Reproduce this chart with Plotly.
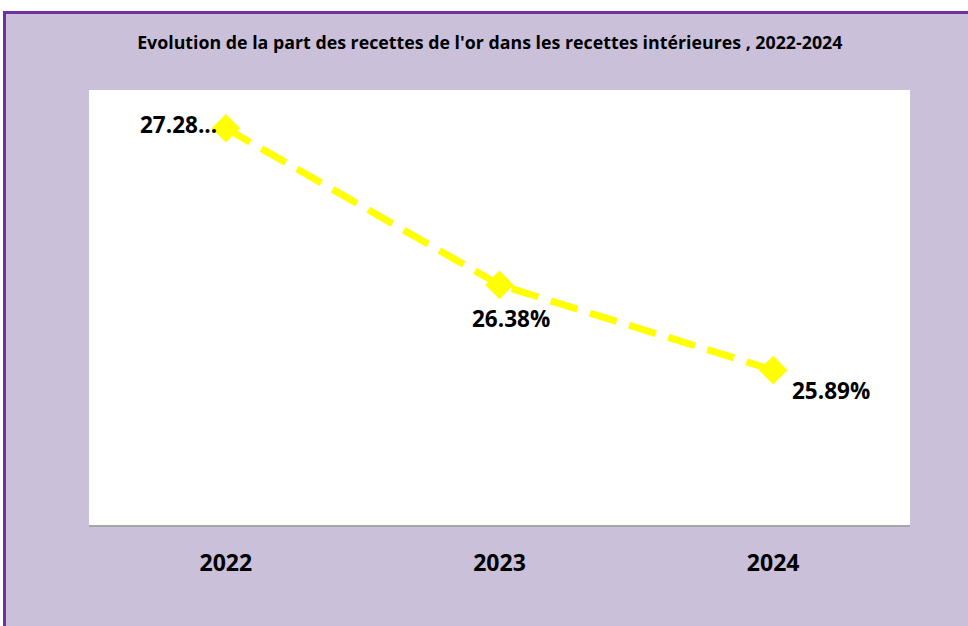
import plotly.graph_objects as go

years = ["2022", "2023", "2024"]
values = [27.28, 26.38, 25.89]
labels = ["27.28...", "26.38%", "25.89%"]
title = "Evolution de la part des recettes de l'or dans les recettes intérieures , 2022-2024"

W, H = 968, 626
L, R, T, B = 89, 58, 90, 101
pw, ph = W - L - R, H - T - B

def px(x):
    return (x - L) / pw

def py(y):
    return (H - B - y) / ph

fig = go.Figure()
fig.add_trace(go.Scatter(
    x=years, y=values, mode="lines+markers",
    line=dict(color="#FFFF00", width=7, dash="28px,13px"),
    marker=dict(symbol="diamond", size=22, color="#FFFF00"),
    cliponaxis=False,
    hoverinfo="skip",
))

label_style = [
    dict(xanchor="right", xshift=-7, yshift=4),
    dict(xanchor="center", xshift=11, yshift=-34),
    dict(xanchor="left", xshift=17, yshift=-20),
]
for i, (v, lab, st) in enumerate(zip(values, labels, label_style)):
    fig.add_annotation(x=i, y=v, text="<b>" + lab + "</b>", showarrow=False,
                       yanchor="middle",
                       font=dict(family="Open Sans", size=22.5, color="#000000"), **st)

fig.update_layout(
    width=W, height=H,
    margin=dict(l=L, r=R, t=T, b=B),
    paper_bgcolor="#CBC0DA",
    plot_bgcolor="#FFFFFF",
    showlegend=False,
    title=dict(text="<b>" + title + "</b>", x=0.506, xanchor="center", y=1 - 43 / H, yanchor="middle",
               font=dict(family="Open Sans", size=17.8, color="#000000")),
    xaxis=dict(type="category", range=[-0.5, 2.5], showgrid=False, zeroline=False,
               showline=True, linecolor="#A6A6A6", linewidth=2,
               ticks="outside", ticklen=16, tickcolor="rgba(0,0,0,0)",
               tickfont=dict(family="Open Sans", size=23, color="#000000", weight="bold")),
    yaxis=dict(range=[25.0, 27.5], showgrid=False, zeroline=False, showticklabels=False,
               showline=False, ticks=""),
    shapes=[
        dict(type="rect", xref="paper", yref="paper", x0=px(0), x1=px(W), y0=py(11), y1=py(0),
             fillcolor="#FFFFFF", line=dict(width=0), layer="above"),
        dict(type="rect", xref="paper", yref="paper", x0=px(3), x1=px(W), y0=py(14), y1=py(11),
             fillcolor="#7030A0", line=dict(width=0), layer="above"),
        dict(type="rect", xref="paper", yref="paper", x0=px(0), x1=px(3), y0=py(H), y1=py(0),
             fillcolor="#FFFFFF", line=dict(width=0), layer="above"),
        dict(type="rect", xref="paper", yref="paper", x0=px(3), x1=px(6), y0=py(H), y1=py(11),
             fillcolor="#7030A0", line=dict(width=0), layer="above"),
    ],
)

fig.write_html("out.html", config={"displayModeBar": False},
               post_script="document.body.style.margin='0';document.body.style.overflow='hidden';")
